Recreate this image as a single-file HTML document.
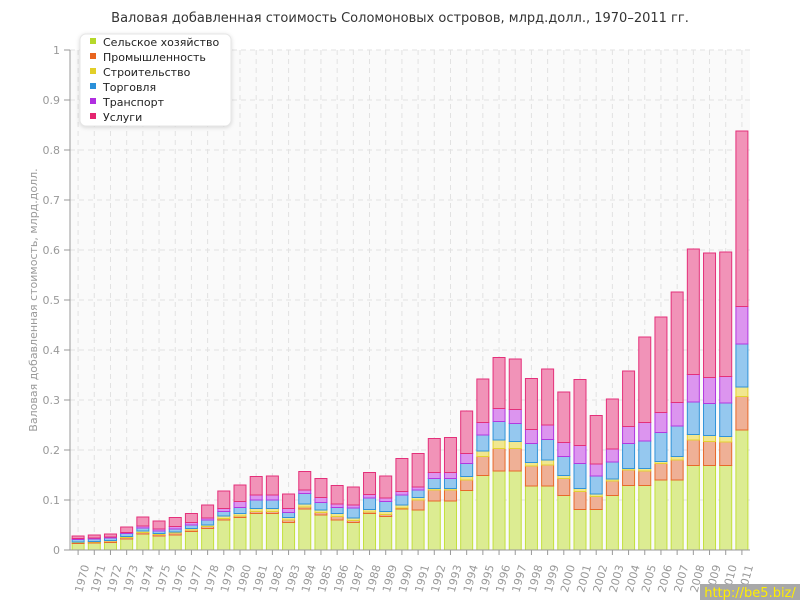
<!DOCTYPE html>
<html><head><meta charset="utf-8">
<style>
html,body{margin:0;padding:0;background:#fff;}
svg{display:block;font-family:"DejaVu Sans","Liberation Sans",sans-serif;}
</style></head>
<body>
<svg id="c" width="800" height="600" xmlns="http://www.w3.org/2000/svg">
<rect x="0" y="0" width="800" height="600" fill="#fff"/>
<rect x="70" y="50" width="680" height="500" fill="#fafafa"/>
<g id="grid"></g>
<g id="bars"></g>
<g id="axes"></g>
<text x="400" y="22" text-anchor="middle" font-size="13" fill="#333">Валовая добавленная стоимость Соломоновых островов, млрд.долл., 1970–2011 гг.</text>
<text transform="translate(37,300) rotate(-90)" text-anchor="middle" font-size="11" fill="#999">Валовая добавленная стоимость, млрд.долл.</text>
<g>
<rect x="80" y="34" width="151" height="92" rx="6" fill="#fff" stroke="#e6e6e6" style="filter:drop-shadow(0 1px 2px rgba(0,0,0,0.15))"/>
<rect x="90" y="38" width="6" height="6" fill="#b5d82a"/><text x="103" y="46" font-size="11" fill="#222">Сельское хозяйство</text>
<rect x="90" y="53" width="6" height="6" fill="#e8641f"/><text x="103" y="61" font-size="11" fill="#222">Промышленность</text>
<rect x="90" y="68" width="6" height="6" fill="#e2cf28"/><text x="103" y="76" font-size="11" fill="#222">Строительство</text>
<rect x="90" y="83" width="6" height="6" fill="#2a90d9"/><text x="103" y="91" font-size="11" fill="#222">Торговля</text>
<rect x="90" y="98" width="6" height="6" fill="#b02ee0"/><text x="103" y="106" font-size="11" fill="#222">Транспорт</text>
<rect x="90" y="113" width="6" height="6" fill="#e4256f"/><text x="103" y="121" font-size="11" fill="#222">Услуги</text>
</g>
<rect x="700" y="584" width="100" height="16" fill="#a8a8a8"/>
<text x="750" y="597" text-anchor="middle" font-size="13" fill="#ffee00">http://be5.biz/</text>
</svg>
<script>
var D=[
[.013,.015,.016,.021,.023,.028],[.014,.016,.017,.022,.024,.030],[.015,.018,.019,.024,.026,.032],
[.022,.025,.027,.033,.035,.046],[.032,.035,.038,.044,.048,.066],[.028,.031,.033,.038,.042,.058],
[.030,.034,.036,.042,.047,.065],[.037,.040,.043,.050,.055,.073],[.043,.047,.050,.060,.064,.090],
[.060,.063,.068,.077,.083,.118],[.065,.068,.073,.085,.097,.130],[.073,.077,.083,.100,.110,.147],
[.073,.077,.083,.100,.110,.148],[.055,.060,.065,.075,.083,.112],[.082,.086,.092,.113,.120,.157],
[.070,.075,.080,.095,.105,.143],[.060,.067,.073,.085,.092,.129],[.055,.059,.064,.084,.090,.126],
[.073,.076,.081,.104,.111,.155],[.067,.071,.077,.097,.104,.148],[.082,.084,.090,.110,.117,.183],
[.080,.100,.105,.120,.126,.193],[.098,.120,.123,.143,.155,.223],[.098,.120,.123,.143,.155,.225],
[.119,.140,.147,.173,.193,.278],[.149,.187,.198,.230,.255,.342],[.158,.203,.220,.257,.283,.385],
[.158,.203,.217,.253,.281,.382],[.128,.168,.175,.213,.241,.343],[.128,.170,.180,.221,.250,.362],
[.109,.143,.149,.187,.215,.316],[.081,.117,.123,.173,.209,.341],[.081,.107,.112,.148,.172,.269],
[.109,.138,.142,.176,.202,.302],[.129,.160,.163,.213,.247,.358],[.129,.158,.163,.218,.255,.426],
[.140,.173,.177,.235,.275,.466],[.140,.180,.187,.248,.295,.516],[.169,.220,.231,.296,.351,.602],
[.169,.217,.229,.293,.345,.594],[.169,.216,.227,.294,.347,.596],[.240,.307,.326,.412,.487,.838]];
var F=["#dcec92","#efb096","#f1e78f","#95c8ef","#dc95ef","#f193b8"];
var S=["#c3e03c","#e8692a","#e4d131","#3193d9","#b238e0","#e4307a"];
var ns="http://www.w3.org/2000/svg";
function el(p,t,a,txt){var e=document.createElementNS(ns,t);for(var k in a)e.setAttribute(k,a[k]);if(txt!==undefined)e.textContent=txt;document.getElementById(p).appendChild(e);return e;}
var W=680/42;
for(var i=0;i<=10;i++){var y=550-50*i;
 if(i>0)el("grid","line",{x1:70,x2:750,y1:y,y2:y,stroke:"#e2e2e2","stroke-dasharray":"5,4"});
 el("axes","line",{x1:64,x2:70,y1:y,y2:y,stroke:"#999"});
 el("axes","text",{x:60,y:y+4,"text-anchor":"end","font-size":"11",fill:"#999"},i==0?"0":i==10?"1":"0."+i);}
for(var j=0;j<42;j++){var cx=70+W*(j+0.5);
 el("grid","line",{x1:cx,x2:cx,y1:50,y2:550,stroke:"#e2e2e2","stroke-dasharray":"5,4"});
 el("axes","line",{x1:cx,x2:cx,y1:550,y2:555,stroke:"#999"});
 el("axes","text",{transform:"translate("+(cx+4)+",593) rotate(-75)","font-size":"11",fill:"#999"},String(1970+j));
 var prev=0;
 for(var k=0;k<6;k++){var v=D[j][k];var y1=550-500*v,y0=550-500*prev;var h=y0-y1;
  if(h>0.3)el("bars","rect",{x:cx-6,y:y1,width:12,height:h,fill:F[k],stroke:S[k],"stroke-width":"1"});
  prev=v;}
}
el("axes","line",{x1:70,x2:70,y1:50,y2:550,stroke:"#999"});
el("axes","line",{x1:70,x2:750,y1:550,y2:550,stroke:"#999"});
</script>
</body></html>
